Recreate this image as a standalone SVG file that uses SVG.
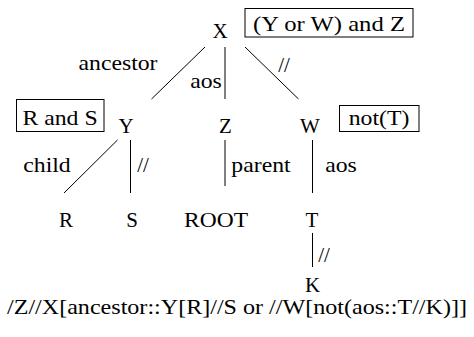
<svg xmlns="http://www.w3.org/2000/svg" width="474" height="337" viewBox="0 0 474 337">
<rect width="474" height="337" fill="#fff"/>
<g id="connectors">
<line x1="205" y1="47" x2="151.5" y2="99" stroke="#000" stroke-width="1"/>
<line x1="225" y1="47" x2="225" y2="99" stroke="#000" stroke-width="1"/>
<line x1="245" y1="47" x2="298.5" y2="99" stroke="#000" stroke-width="1"/>
<line x1="117.5" y1="140" x2="64" y2="193" stroke="#000" stroke-width="1"/>
<line x1="130.5" y1="140" x2="130.5" y2="193" stroke="#000" stroke-width="1"/>
<line x1="225" y1="140" x2="225" y2="186" stroke="#000" stroke-width="1"/>
<line x1="312.5" y1="140" x2="312.5" y2="193" stroke="#000" stroke-width="1"/>
<line x1="312.5" y1="233" x2="312.5" y2="267" stroke="#000" stroke-width="1"/>
<text font-family="Liberation Serif" font-size="21" text-anchor="middle" x="118" y="70" textLength="79" lengthAdjust="spacingAndGlyphs">ancestor</text>
<text font-family="Liberation Serif" font-size="21" text-anchor="middle" x="206" y="88" textLength="31.6" lengthAdjust="spacingAndGlyphs">aos</text>
<text font-family="Liberation Serif" font-size="21" text-anchor="middle" x="284" y="72">//</text>
<text font-family="Liberation Serif" font-size="21" text-anchor="middle" x="47" y="172" textLength="47.5" lengthAdjust="spacingAndGlyphs">child</text>
<text font-family="Liberation Serif" font-size="21" text-anchor="middle" x="143" y="172">//</text>
<text font-family="Liberation Serif" font-size="21" text-anchor="middle" x="261" y="172" textLength="59.3" lengthAdjust="spacingAndGlyphs">parent</text>
<text font-family="Liberation Serif" font-size="21" text-anchor="middle" x="341" y="172" textLength="31.6" lengthAdjust="spacingAndGlyphs">aos</text>
<text font-family="Liberation Serif" font-size="21" text-anchor="middle" x="324" y="262">//</text>
</g>
<g id="node-X"><text font-family="Liberation Serif" font-size="21" text-anchor="middle" x="220" y="38">X</text></g>
<g id="cond-X"><rect x="245" y="8.5" width="168" height="28.5" fill="none" stroke="#000" stroke-width="1"/><text font-family="Liberation Serif" font-size="21" text-anchor="middle" x="329" y="31" textLength="152" lengthAdjust="spacingAndGlyphs">(Y or W) and Z</text></g>
<g id="node-Y"><text font-family="Liberation Serif" font-size="21" text-anchor="middle" x="126" y="133">Y</text></g>
<g id="cond-Y"><rect x="16.5" y="99.5" width="87.5" height="32" fill="none" stroke="#000" stroke-width="1"/><text font-family="Liberation Serif" font-size="21" text-anchor="middle" x="60" y="125" textLength="75.2" lengthAdjust="spacingAndGlyphs">R and S</text></g>
<g id="node-Z"><text font-family="Liberation Serif" font-size="21" text-anchor="middle" x="225.5" y="133">Z</text></g>
<g id="node-W"><text font-family="Liberation Serif" font-size="21" text-anchor="middle" x="310" y="133">W</text></g>
<g id="cond-W"><rect x="339.5" y="105.5" width="79.5" height="26" fill="none" stroke="#000" stroke-width="1"/><text font-family="Liberation Serif" font-size="21" text-anchor="middle" x="379" y="125" textLength="60.6" lengthAdjust="spacingAndGlyphs">not(T)</text></g>
<g id="node-R"><text font-family="Liberation Serif" font-size="21" text-anchor="middle" x="66" y="227">R</text></g>
<g id="node-S"><text font-family="Liberation Serif" font-size="21" text-anchor="middle" x="132" y="227">S</text></g>
<g id="node-ROOT"><text font-family="Liberation Serif" font-size="21" text-anchor="middle" x="216" y="227" textLength="64" lengthAdjust="spacingAndGlyphs">ROOT</text></g>
<g id="node-T"><text font-family="Liberation Serif" font-size="21" text-anchor="middle" x="312" y="227">T</text></g>
<g id="node-K"><text font-family="Liberation Serif" font-size="21" text-anchor="middle" x="312.5" y="292">K</text></g>
<g id="query"><text font-family="Liberation Serif" font-size="21" text-anchor="middle" x="237" y="314" textLength="460" lengthAdjust="spacingAndGlyphs">/Z//X[ancestor::Y[R]//S or //W[not(aos::T//K)]]</text></g>
</svg>
